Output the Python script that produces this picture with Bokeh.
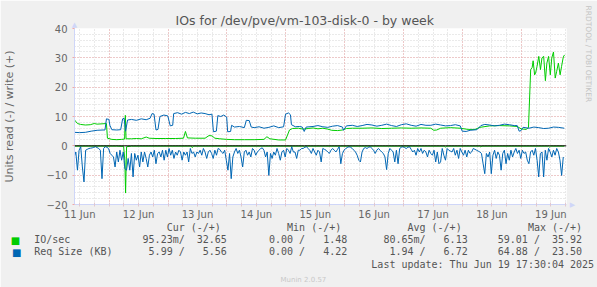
from bokeh.plotting import figure
from bokeh.models import Range1d, FixedTicker, Grid, Span, Label, Title
from bokeh.embed import file_html
from bokeh.resources import INLINE

# ---------------- data (hours since 11 Jun 00:00) ----------------
day_ticks = [12, 36, 60, 84, 108, 132, 156, 180, 204]
day_labels = ["11 Jun", "12 Jun", "13 Jun", "14 Jun", "15 Jun", "16 Jun", "17 Jun", "18 Jun", "19 Jun"]
y_ticks = [-20, -10, 0, 10, 20, 30, 40]

# IO/sec write (+)
io_write_t = [9.9, 10.5, 11.1, 12.3, 14.3, 16.3, 17.9, 19.1, 21.1, 22.9, 23.3, 25.1, 27.1, 29.1, 30.3, 30.6, 30.9,
              33.1, 35.1, 37.1, 39.1, 40.3, 43.1, 47.1, 51.1, 54.3, 55.1, 55.9, 59.1, 63.1, 64.7, 65.9, 67.1,
              69.1, 71.9, 75.1, 79.1, 83.1, 87.1, 88.3, 89.5, 93.1, 95.9, 96.7, 97.5, 98.7, 101.1, 103.1,
              105.1, 107.1, 109.1, 111.1, 113.1, 114.7, 117.1, 119.1, 120.7, 123.1, 127.1, 131.1, 135.1,
              139.1, 143.1, 147.1, 151.1, 155.1, 156.3, 157.5, 159.1, 163.1, 167.1, 170.3, 173.1, 175.1,
              179.1, 183.1, 187.1, 190.3, 191.9, 193.9, 194.9, 195.8, 196.4, 196.8, 197.4, 197.8, 198.4,
              199.1, 199.8, 200.4, 201.1, 201.8, 202.4, 203.1, 203.8, 204.4, 205.1, 205.8, 206.4, 207.1,
              207.8, 208.4, 209.1, 209.6]
io_write = [8.8, 8.2, 7.6, 7.3, 7.1, 7.2, 7.6, 7.4, 7.5, 7.6, 2.6, 2.2, 2.1, 2.2, 2.3, 10.4, 2.4,
            2.4, 2.5, 2.4, 3.0, 2.6, 2.5, 2.5, 2.5, 2.6, 4.9, 2.7, 2.6, 2.6, 3.5, 3.4, 2.6,
            2.4, 2.2, 2.1, 2.1, 2.1, 2.2, 3.1, 2.4, 2.0, 2.0, 3.7, 5.4, 5.9, 6.0, 5.7,
            5.9, 6.1, 5.8, 6.0, 5.7, 5.3, 5.2, 5.4, 5.9, 6.0, 6.0, 6.1, 5.9,
            6.0, 6.1, 6.0, 6.1, 6.0, 5.3, 5.4, 6.0, 6.2, 6.0, 5.6, 5.6, 6.3,
            6.8, 6.9, 6.8, 6.6, 5.8, 5.6, 6.2, 26.0, 26.7, 29.0, 24.2, 24.8, 27.1,
            30.5, 26.0, 30.0, 30.5, 22.2, 28.2, 30.5, 24.2, 30.0, 32.0, 23.1, 25.4, 28.2,
            24.2, 27.1, 30.3, 31.0]

# IO/sec read (-)
io_read_t = [9.9, 27.1, 29.9, 30.4, 30.7, 31.1, 33.1, 57.5, 57.9, 58.3, 103.1, 103.5, 103.9,
             160.7, 161.1, 161.5, 175.1, 175.5, 175.9, 203.1, 203.5, 203.9, 209.5]
io_read = [-0.1, -0.1, -0.2, -5.0, -16.1, -0.3, -0.1, -0.1, -0.6, -0.1, -0.1, -0.4, -0.1,
           -0.1, -0.5, -0.1, -0.1, -0.4, -0.1, -0.1, -0.4, -0.1, -0.1]

# Req Size write (+)
size_write_t = [9.9, 11.9, 14.3, 16.7, 19.1, 21.5, 22.3, 22.9, 23.9, 24.3, 25.1, 27.1, 28.7, 29.5, 30.1,
                30.7, 31.5, 33.1, 35.1, 37.1, 39.1, 40.7, 41.5, 42.3, 43.1, 43.9, 44.7, 46.3, 47.9,
                48.9, 49.9, 50.3, 51.9, 53.5, 55.1, 56.7, 58.3, 59.9, 61.5, 63.1, 64.7, 65.9, 66.5,
                67.7, 68.3, 69.5, 70.7, 71.9, 72.3, 73.5, 73.9, 75.1, 77.1, 79.1, 79.9, 81.1, 81.9,
                83.1, 85.1, 87.1, 89.1, 91.1, 93.1, 95.1, 95.9, 97.1, 97.9, 98.3, 99.9, 101.5, 102.7,
                103.5, 104.3, 107.1, 109.1, 111.1, 113.1, 115.1, 117.1, 119.1, 119.5, 120.7, 123.1,
                125.1, 127.1, 129.1, 131.1, 133.1, 135.1, 137.1, 139.1, 141.1, 143.1, 145.1, 147.1,
                149.1, 151.1, 153.1, 155.1, 157.1, 159.1, 161.1, 163.1, 165.1, 167.1, 167.9, 169.5,
                171.1, 173.9, 175.5, 177.1, 179.1, 181.1, 183.1, 185.1, 187.1, 189.1, 190.3, 191.1,
                191.9, 192.7, 195.1, 197.1, 199.1, 201.1, 203.1, 205.1, 207.1, 209.5]
size_write = [4.6, 4.5, 4.6, 5.0, 5.3, 5.4, 5.4, 9.2, 9.0, 7.0, 5.5, 5.4, 5.5, 9.2, 9.4,
              5.0, 8.8, 9.0, 8.7, 9.2, 8.9, 9.4, 11.0, 10.8, 5.4, 5.6, 10.0, 10.5, 10.2,
              6.8, 7.0, 11.0, 11.3, 10.8, 11.4, 11.0, 11.5, 10.9, 11.2, 11.0, 10.6, 10.8, 4.8,
              5.0, 10.3, 10.0, 10.5, 9.8, 4.8, 4.9, 7.0, 6.4, 6.6, 6.2, 8.7, 8.6, 6.4,
              6.2, 6.5, 6.0, 6.3, 6.8, 6.2, 6.5, 10.8, 11.2, 10.6, 7.2, 6.5, 6.6, 6.4,
              4.9, 6.4, 6.6, 6.9, 6.5, 6.3, 6.7, 6.9, 6.4, 5.3, 6.8, 7.0,
              6.6, 6.9, 7.3, 7.1, 6.7, 7.0, 7.4, 6.9, 6.6, 7.2, 7.5, 7.0,
              6.7, 7.3, 7.0, 7.0, 7.4, 7.1, 6.8, 6.9, 7.2, 6.8, 5.0, 4.9,
              5.3, 5.5, 6.9, 7.3, 7.1, 6.8, 7.0, 7.4, 7.2, 6.9, 6.9, 5.0,
              5.2, 6.3, 6.0, 6.4, 6.2, 5.9, 6.0, 6.4, 6.3, 6.0]

# Req Size read (-), 40-minute samples starting 11 Jun 09:45
size_read_start = 9.75
size_read_step = 2.0 / 3.0
size_read = [
    -3.8, -2.1, -8.3, -1.5, -0.3, -7.2, -12.3, -1.5, -1.2, -0.9,
    -0.8, -0.7, -0.5, -0.3, -0.6, -0.9, -1.5, -11.2, -0.9, -0.3,
    -0.5, -0.9, -2.6, -3.2, -3.8, -7.2, -2.1, -5.5, -1.5, -4.9,
    -2.1, -7.8, -8.3, -4.3, -8.3, -2.6, -10.6, -2.6, -4.9, -3.2,
    -7.2, -2.1, -5.5, -2.1, -4.3, -7.2, -3.2, -2.1, -3.8, -1.5,
    -6.1, -2.6, -2.1, -3.8, -1.5, -4.9, -1.5, -3.8, -0.9, -3.2,
    -1.5, -4.3, -2.1, -3.2, -1.5, -2.1, -4.9, -2.1, -3.2, -2.1,
    -5.5, -0.9, -2.6, -2.1, -3.8, -2.1, -2.6, -1.5, -3.2, -0.9,
    -2.1, -4.3, -2.1, -1.5, -2.6, -4.3, -1.5, -3.2, -0.9, -1.2,
    -2.1, -2.6, -1.5, -4.9, -8.3, -2.6, -11.2, -3.8, -2.1, -0.9,
    -2.6, -1.5, -3.8, -7.2, -2.1, -1.5, -3.2, -2.1, -3.8, -0.9,
    -1.5, -3.2, -2.1, -1.5, -0.9, -0.7, -1.5, -3.8, -2.1, -10.1,
    -2.6, -4.3, -2.1, -3.2, -0.9, -2.6, -4.9, -2.1, -1.5, -3.8,
    -0.9, -1.5, -2.6, -0.3, -2.1, -2.1, -4.3, -1.5, -1.5, -0.9,
    -0.9, -0.5, -0.3, -0.9, -1.5, -2.6, -0.9, -2.1, -3.2, -1.5,
    -2.1, -5.5, -0.9, -1.2, -1.5, -2.1, -2.6, -1.5, -0.9, -1.5,
    -2.1, -1.2, -0.3, -6.1, -2.6, -1.5, -0.9, -0.6, -0.3, -0.5,
    -0.9, -1.5, -2.1, -3.2, -4.9, -5.5, -2.1, -0.9, -0.6, -0.9,
    -0.5, -0.3, -0.9, -1.5, -2.6, -1.5, -0.9, -1.5, -2.1, -2.6,
    -3.8, -8.1, -2.6, -0.9, -1.5, -2.1, -5.5, -1.5, -6.1, -0.9,
    -0.5, -0.3, -0.6, -0.9, -0.5, -0.3, -1.2, -2.1, -1.5, -3.2,
    -0.9, -2.1, -0.9, -2.6, -1.5, -2.1, -3.8, -1.5, -2.6, -3.2,
    -1.5, -5.5, -2.1, -6.1, -5.5, -0.9, -3.2, -4.9, -0.9, -1.5,
    -1.8, -2.1, -0.9, -3.2, -1.5, -4.3, -0.9, -2.1, -3.2, -1.5,
    -3.8, -1.5, -2.6, -2.1, -0.9, -1.2, -1.5, -1.8, -2.1, -2.6,
    -6.1, -9.5, -2.6, -3.8, -2.1, -9.5, -3.2, -1.5, -4.3, -2.1,
    -3.2, -8.3, -2.6, -1.5, -6.1, -2.6, -4.9, -1.5, -3.8, -2.1,
    -0.9, -2.6, -1.5, -4.3, -1.5, -2.6, -2.1, -4.9, -6.1, -2.1,
    -1.5, -3.2, -0.9, -4.9, -10.6, -2.6, -2.1, -10.6, -1.5, -4.9,
    -0.9, -2.1, -3.8, -1.5, -3.2, -0.9, -2.1, -4.9, -10.1, -3.8,
]
size_read_t = [size_read_start + i * size_read_step for i in range(len(size_read))]

series_names = ["IO/sec", "Req Size (KB)"]
series_colors = ["#00CC00", "#0066B3"]
legend_headers = ["Cur (-/+)", "Min (-/+)", "Avg (-/+)", "Max (-/+)"]
legend_values = [
    ["95.23m/  32.65", "0.00 /   1.48", "80.65m/   6.13", "59.01 /  35.92"],
    ["5.99 /   5.56", "0.00 /   4.22", "1.94 /   6.72", "64.88 /  23.50"],
]
title_text = "IOs for /dev/pve/vm-103-disk-0 - by week"
ylabel_text = "Units read (-) / write (+)"
last_update = "Last update: Thu Jun 19 17:30:04 2025"
credit_text = "Munin 2.0.57"
side_text = "RRDTOOL / TOBI OETIKER"

# ---------------- figure ----------------
FL, FR, FT, FB = 67, 568, 28, 204  # frame edges in canvas pixels

p = figure(width=597, height=287, output_backend="svg", toolbar_location=None, title=None,
           x_range=Range1d(9.88, 210.4), y_range=Range1d(-20, 40),
           min_border_left=FL, min_border_right=597 - FR, min_border_top=FT, min_border_bottom=287 - FB,
           background_fill_color="#FFFFFF", border_fill_color="#F0F0F0", outline_line_color=None)
p.grid.visible = False

GRID_MINOR = "#D4D4D4"
GRID_MAJOR = "#F0A8A8"
AXIS_C = "#CFD6F8"
six_h = list(range(12, 211, 6))
for dim, ticks, col in [(0, six_h, GRID_MINOR), (1, list(range(-20, 41, 2)), GRID_MINOR),
                        (0, list(range(24, 210, 24)), GRID_MAJOR), (1, y_ticks, GRID_MAJOR)]:
    p.add_layout(Grid(dimension=dim, ticker=FixedTicker(ticks=ticks), grid_line_color=col,
                      grid_line_dash="1 2", grid_line_width=1))

FONT = "DejaVu Sans"
MONO = "DejaVu Sans Mono"
FC = "#666666"
LC = "#555555"

xa = p.xaxis[0]
xa.ticker = FixedTicker(ticks=six_h)
xa.major_label_overrides = {t: (day_labels[day_ticks.index(t)] if t in day_ticks else "") for t in six_h}
xa.axis_line_color = AXIS_C
xa.major_tick_line_color = "#E0C8D0"
xa.major_tick_in = 2
xa.major_tick_out = 2
xa.minor_tick_line_color = None
xa.major_label_standoff = 2
xa.major_label_text_font = FONT
xa.major_label_text_font_size = "10px"
xa.major_label_text_color = FC

ya = p.yaxis[0]
ya.ticker = FixedTicker(ticks=y_ticks)
ya.axis_line_color = AXIS_C
ya.major_tick_line_color = "#F0A8A8"
ya.major_tick_in = 0
ya.major_tick_out = 2
ya.minor_tick_line_color = None
ya.major_label_standoff = 5
ya.major_label_text_font = FONT
ya.major_label_text_font_size = "10px"
ya.major_label_text_color = FC
ya.axis_label = ylabel_text
ya.axis_label_text_font = FONT
ya.axis_label_text_font_size = "11px"
ya.axis_label_text_font_style = "normal"
ya.axis_label_text_color = FC
ya.axis_label_standoff = 27

# series
p.line(io_read_t, io_read, line_color=series_colors[0], line_width=1)
p.line(io_write_t, io_write, line_color=series_colors[0], line_width=1)
p.line(size_read_t, size_read, line_color=series_colors[1], line_width=1)
p.line(size_write_t, size_write, line_color=series_colors[1], line_width=1)
p.add_layout(Span(location=0, dimension="width", line_color="#000000", line_width=1))

# ---------------- texts around the frame ----------------
NB = "\u00A0"


def put(line, col, s):
    line = line + [NB] * max(0, col - len(line))
    return line + list(s.replace(" ", NB))


header_cols = [22, 42, 62, 82]
value_end_cols = [32, 52, 72, 91]
lines = []
ln = []
for h, c in zip(legend_headers, header_cols):
    ln = put(ln, c, h)
lines.append("".join(ln))
for r in range(2):
    ln = put([], 0, series_names[r])
    for v, e in zip(legend_values[r], value_end_cols):
        ln = put(ln, e - len(v), v)
    lines.append("".join(ln))
lines.append("".join(put([], 56, last_update)))
legend_block = "\n".join(lines)

# above: main title
p.add_layout(Title(text=title_text, align="left", offset=101, vertical_align="bottom", standoff=2,
                   text_font=FONT, text_font_size="12.5px", text_font_style="normal",
                   text_color="#555555"), "above")
p.add_layout(Label(x=0, y=-15, x_units="screen", y_units="screen", text="\u25B2", text_font=FONT,
                   text_font_size="7px", text_color=AXIS_C, text_align="center",
                   text_baseline="middle"), "above")

# below: legend block, credit
p.add_layout(Title(text=legend_block, align="left", offset=26.7 - FL, vertical_align="top", standoff=-2.0,
                   text_font=MONO, text_font_size="10px", text_font_style="normal", text_color=LC,
                   text_line_height=1.134), "below")
p.add_layout(Title(text=credit_text, align="left", offset=206, vertical_align="bottom", standoff=5.9,
                   text_font=FONT, text_font_size="7px", text_font_style="normal",
                   text_color="#C8C8C8"), "below")

# right: legend colour squares, rrdtool credit, x-axis arrow head
SQ_W = 7.7
for r, cy in enumerate([240.1, 252.0]):
    p.add_layout(Label(x=17 - (FR + r * SQ_W), y=FB - cy, x_units="screen", y_units="screen",
                       text="\u25A0", text_font=FONT, text_font_size="10px", text_color=series_colors[r],
                       text_align="center", text_baseline="middle"), "right")
p.add_layout(Title(text=side_text, align="left", offset=5 - FT, vertical_align="middle", standoff=-3.5,
                   text_font=FONT, text_font_size="7.5px", text_font_style="normal",
                   text_color="#C4C4C4"), "right")
p.add_layout(Label(x=570.5 - (FR + 2 * SQ_W + 7.2), y=0, x_units="screen", y_units="screen",
                   text="\u25B6", text_font=FONT, text_font_size="7px", text_color=AXIS_C,
                   text_align="center", text_baseline="middle"), "right")

open("out.html", "w").write(file_html(p, INLINE))
